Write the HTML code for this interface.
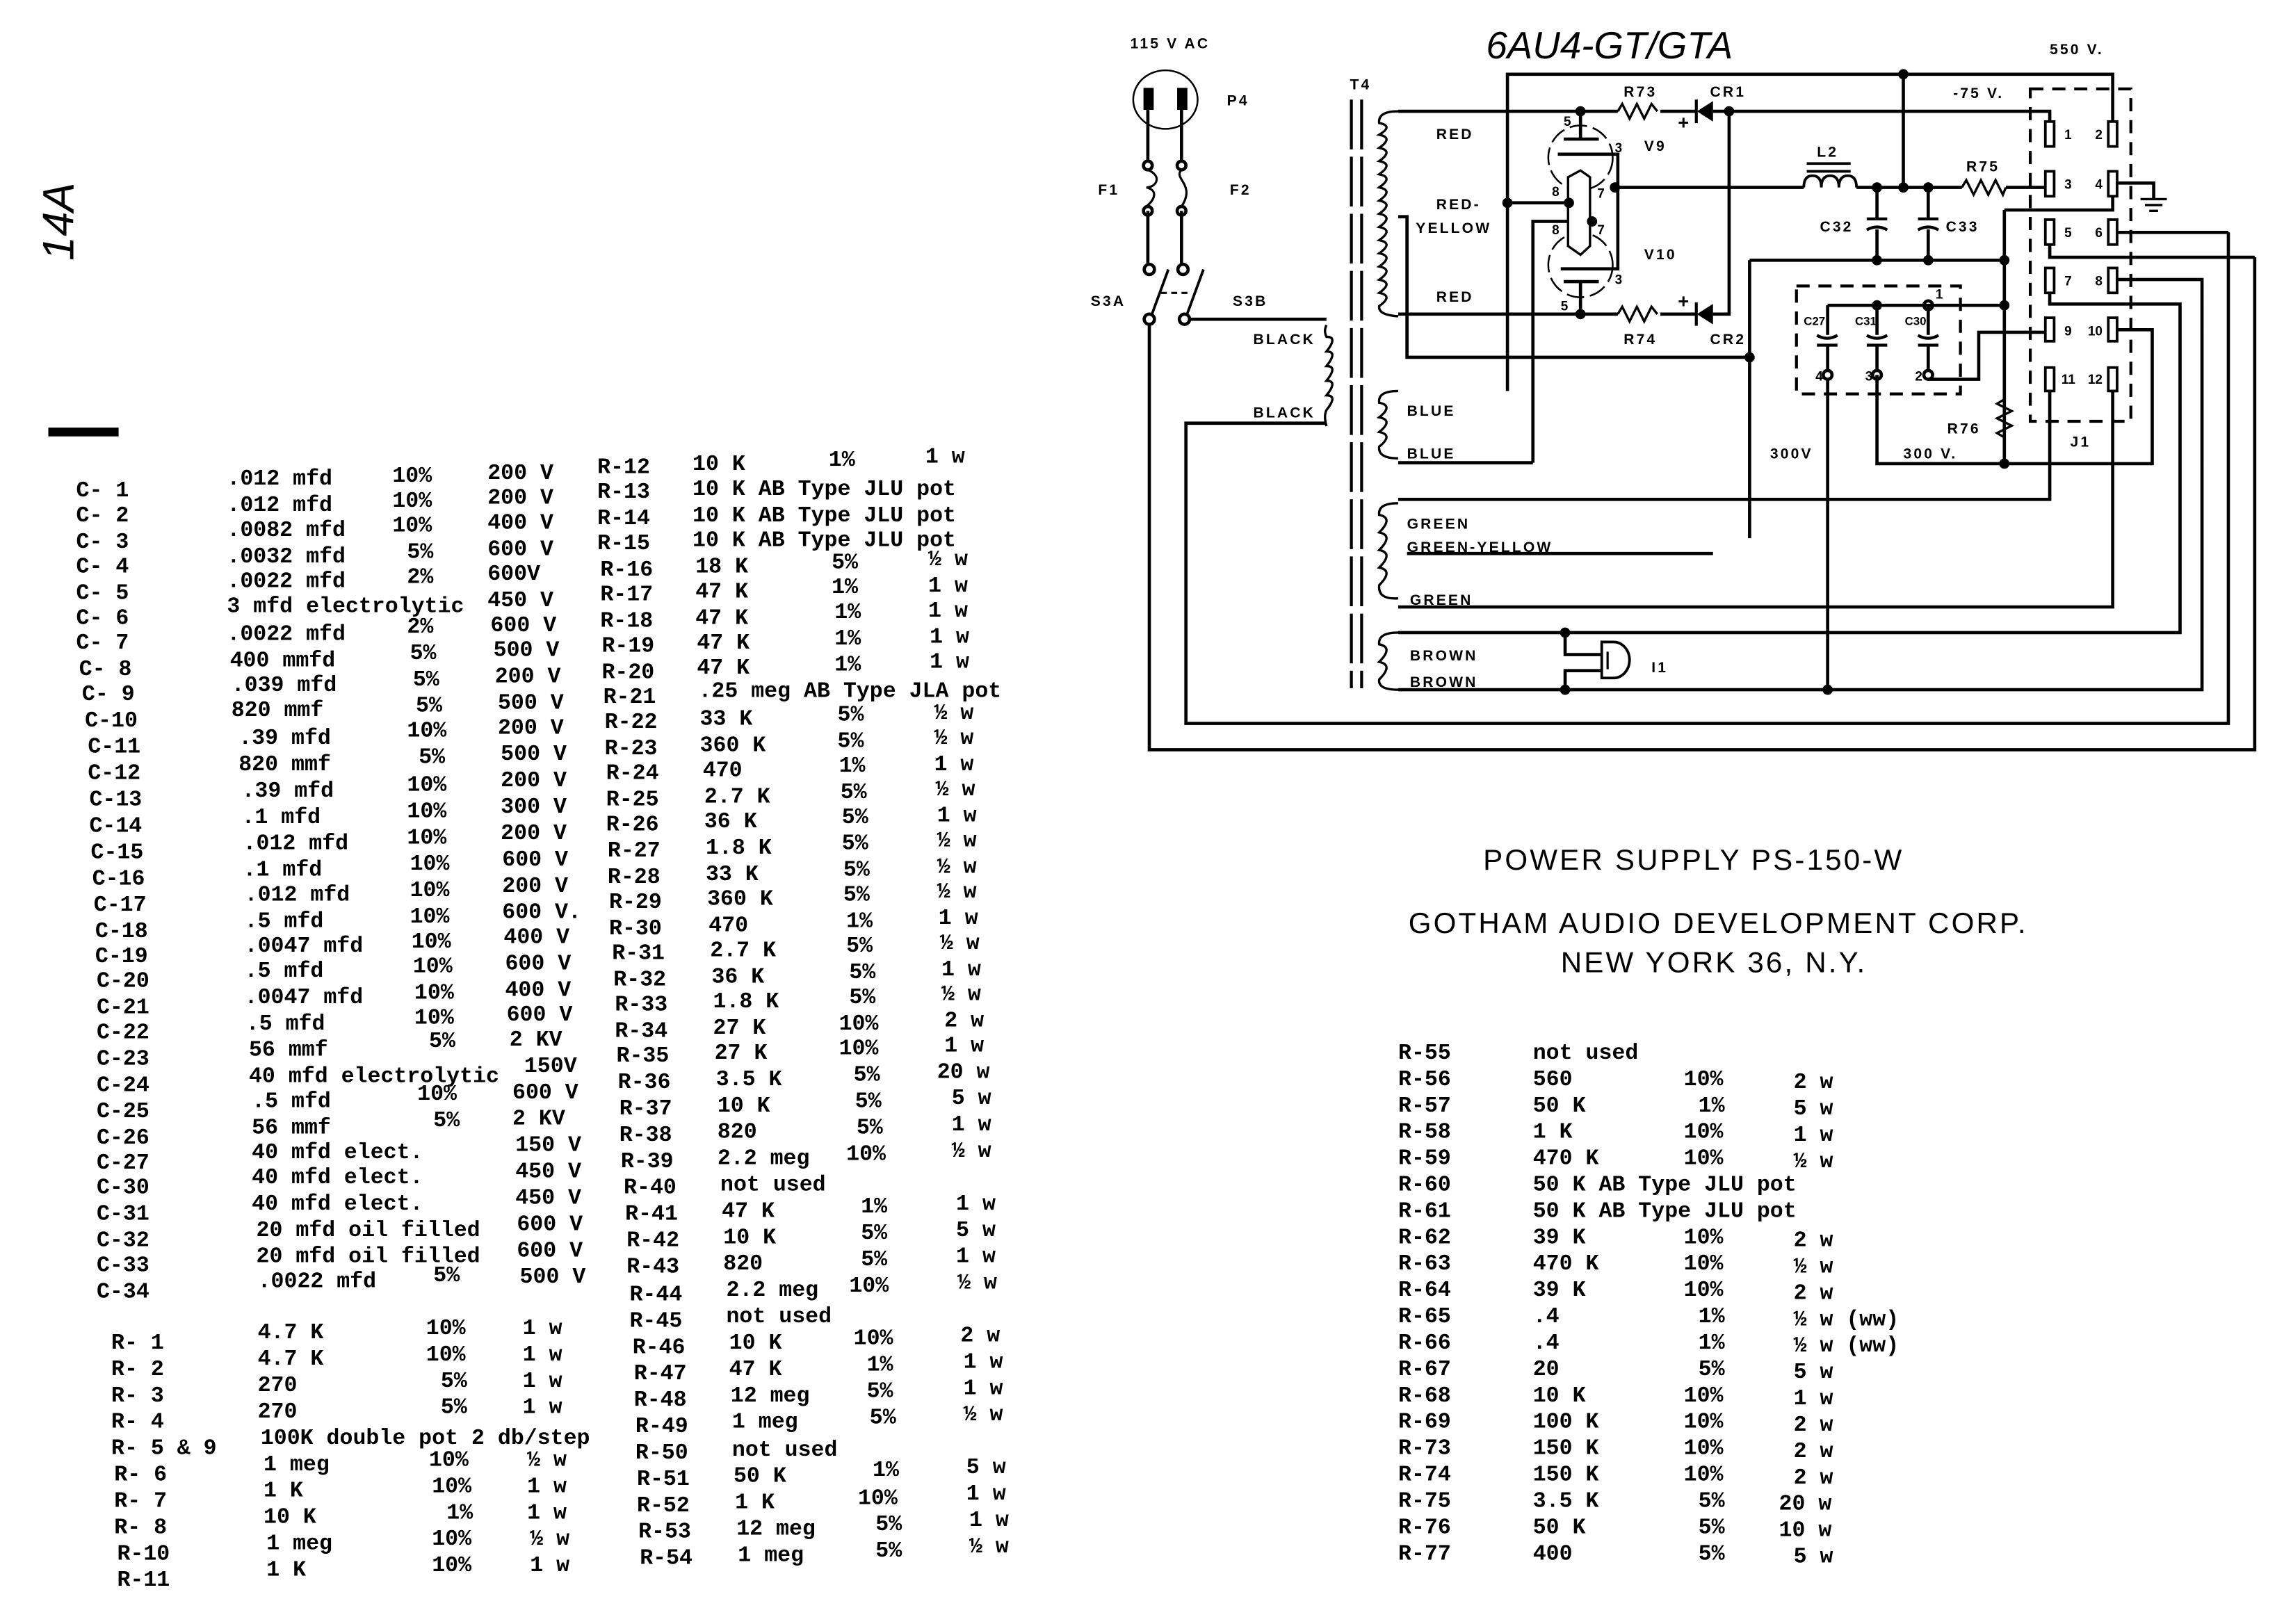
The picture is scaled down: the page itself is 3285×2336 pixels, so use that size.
<!DOCTYPE html>
<html><head><meta charset="utf-8"><style>
html,body{margin:0;padding:0;background:#fff}
svg{display:block}
.t{font-family:"Liberation Mono",monospace;font-weight:bold;font-size:15px;fill:#000}
.s{font-family:"Liberation Sans",sans-serif;font-weight:bold;font-size:10px;fill:#000;letter-spacing:1.5px}
.w{stroke:#000;stroke-width:2.2;fill:none}
.d{stroke:#000;stroke-width:2;fill:none;stroke-dasharray:9 6}
</style></head><body>
<svg width="3285" height="2336" viewBox="0 0 1560 1109" preserveAspectRatio="none" xmlns="http://www.w3.org/2000/svg">
<rect width="1560" height="1109" fill="#fff"/>
<text x="0" y="0" transform="translate(50,178) rotate(-90)" style="font-family:'Liberation Sans',sans-serif;font-style:italic;font-size:30px">14A</text>
<rect x="33" y="292" width="48" height="6" fill="#000"/>

<g class="t">
<text x="52" y="339">C- 1</text><text x="155" y="331">.012 mfd</text><text x="268" y="329">10%</text><text x="333" y="327">200 V</text>
<text x="52" y="356">C- 2</text><text x="155" y="349">.012 mfd</text><text x="268" y="346">10%</text><text x="333" y="344">200 V</text>
<text x="52" y="374">C- 3</text><text x="155" y="366">.0082 mfd</text><text x="268" y="363">10%</text><text x="333" y="361">400 V</text>
<text x="52" y="391">C- 4</text><text x="155" y="384">.0032 mfd</text><text x="278" y="381">5%</text><text x="333" y="379">600 V</text>
<text x="52" y="409">C- 5</text><text x="155" y="401">.0022 mfd</text><text x="278" y="398">2%</text><text x="333" y="396">600V</text>
<text x="52" y="426">C- 6</text><text x="155" y="418">3 mfd electrolytic</text><text x="333" y="414">450 V</text>
<text x="52" y="443">C- 7</text><text x="155" y="437">.0022 mfd</text><text x="278" y="432">2%</text><text x="335" y="431">600 V</text>
<text x="54" y="461">C- 8</text><text x="157" y="455">400 mmfd</text><text x="280" y="450">5%</text><text x="337" y="448">500 V</text>
<text x="56" y="478">C- 9</text><text x="158" y="472">.039 mfd</text><text x="282" y="468">5%</text><text x="338" y="466">200 V</text>
<text x="58" y="496">C-10</text><text x="158" y="489">820 mmf</text><text x="284" y="486">5%</text><text x="340" y="484">500 V</text>
<text x="60" y="514">C-11</text><text x="163" y="508">.39 mfd</text><text x="278" y="503">10%</text><text x="340" y="501">200 V</text>
<text x="60" y="532">C-12</text><text x="163" y="526">820 mmf</text><text x="286" y="521">5%</text><text x="342" y="519">500 V</text>
<text x="61" y="550">C-13</text><text x="165" y="544">.39 mfd</text><text x="278" y="540">10%</text><text x="342" y="537">200 V</text>
<text x="61" y="568">C-14</text><text x="165" y="562">.1 mfd</text><text x="278" y="558">10%</text><text x="342" y="555">300 V</text>
<text x="62" y="586">C-15</text><text x="166" y="580">.012 mfd</text><text x="278" y="576">10%</text><text x="342" y="573">200 V</text>
<text x="63" y="604">C-16</text><text x="166" y="598">.1 mfd</text><text x="280" y="594">10%</text><text x="343" y="591">600 V</text>
<text x="64" y="622">C-17</text><text x="167" y="615">.012 mfd</text><text x="280" y="612">10%</text><text x="343" y="609">200 V</text>
<text x="65" y="640">C-18</text><text x="167" y="633">.5 mfd</text><text x="280" y="630">10%</text><text x="343" y="627">600 V.</text>
<text x="65" y="657">C-19</text><text x="167" y="650">.0047 mfd</text><text x="281" y="647">10%</text><text x="344" y="644">400 V</text>
<text x="66" y="674">C-20</text><text x="167" y="667">.5 mfd</text><text x="282" y="664">10%</text><text x="345" y="662">600 V</text>
<text x="66" y="692">C-21</text><text x="167" y="685">.0047 mfd</text><text x="283" y="682">10%</text><text x="345" y="680">400 V</text>
<text x="66" y="709">C-22</text><text x="168" y="703">.5 mfd</text><text x="283" y="699">10%</text><text x="346" y="697">600 V</text>
<text x="66" y="727">C-23</text><text x="170" y="721">56 mmf</text><text x="293" y="715">5%</text><text x="348" y="714">2 KV</text>
<text x="66" y="745">C-24</text><text x="170" y="739">40 mfd electrolytic</text><text x="358" y="732">150V</text>
<text x="66" y="763">C-25</text><text x="172" y="756">.5 mfd</text><text x="285" y="751">10%</text><text x="350" y="750">600 V</text>
<text x="66" y="781">C-26</text><text x="172" y="774">56 mmf</text><text x="296" y="769">5%</text><text x="350" y="768">2 KV</text>
<text x="66" y="798">C-27</text><text x="172" y="791">40 mfd elect.</text><text x="352" y="786">150 V</text>
<text x="66" y="815">C-30</text><text x="172" y="808">40 mfd elect.</text><text x="352" y="804">450 V</text>
<text x="66" y="833">C-31</text><text x="172" y="826">40 mfd elect.</text><text x="352" y="822">450 V</text>
<text x="66" y="851">C-32</text><text x="175" y="844">20 mfd oil filled</text><text x="353" y="840">600 V</text>
<text x="66" y="868">C-33</text><text x="175" y="862">20 mfd oil filled</text><text x="353" y="858">600 V</text>
<text x="66" y="886">C-34</text><text x="176" y="879">.0022 mfd</text><text x="296" y="875">5%</text><text x="355" y="876">500 V</text>
<text x="76" y="921">R- 1</text><text x="176" y="914">4.7 K</text><text x="291" y="911">10%</text><text x="357" y="911">1 w</text>
<text x="76" y="939">R- 2</text><text x="176" y="932">4.7 K</text><text x="291" y="929">10%</text><text x="357" y="929">1 w</text>
<text x="76" y="957">R- 3</text><text x="176" y="950">270</text><text x="301" y="947">5%</text><text x="357" y="947">1 w</text>
<text x="76" y="975">R- 4</text><text x="176" y="968">270</text><text x="301" y="965">5%</text><text x="357" y="965">1 w</text>
<text x="76" y="993">R- 5 &amp; 9</text><text x="178" y="986">100K double pot 2 db/step</text>
<text x="78" y="1011">R- 6</text><text x="180" y="1004">1 meg</text><text x="293" y="1001">10%</text><text x="360" y="1001">½ w</text>
<text x="78" y="1029">R- 7</text><text x="180" y="1022">1 K</text><text x="295" y="1019">10%</text><text x="360" y="1019">1 w</text>
<text x="78" y="1047">R- 8</text><text x="180" y="1040">10 K</text><text x="305" y="1037">1%</text><text x="360" y="1037">1 w</text>
<text x="80" y="1065">R-10</text><text x="182" y="1058">1 meg</text><text x="295" y="1055">10%</text><text x="362" y="1055">½ w</text>
<text x="80" y="1083">R-11</text><text x="182" y="1076">1 K</text><text x="295" y="1073">10%</text><text x="362" y="1073">1 w</text>
</g>
<g class="t">
<text x="408" y="323">R-12</text><text x="473" y="321">10 K</text><text x="566" y="318">1%</text><text x="632" y="316">1 w</text>
<text x="408" y="340">R-13</text><text x="473" y="338">10 K AB Type JLU pot</text>
<text x="408" y="358">R-14</text><text x="473" y="356">10 K AB Type JLU pot</text>
<text x="408" y="375">R-15</text><text x="473" y="373">10 K AB Type JLU pot</text>
<text x="410" y="393">R-16</text><text x="475" y="391">18 K</text><text x="568" y="388">5%</text><text x="634" y="386">½ w</text>
<text x="410" y="410">R-17</text><text x="475" y="408">47 K</text><text x="568" y="405">1%</text><text x="634" y="404">1 w</text>
<text x="410" y="428">R-18</text><text x="475" y="426">47 K</text><text x="570" y="422">1%</text><text x="634" y="421">1 w</text>
<text x="411" y="445">R-19</text><text x="476" y="443">47 K</text><text x="570" y="440">1%</text><text x="635" y="439">1 w</text>
<text x="411" y="463">R-20</text><text x="476" y="460">47 K</text><text x="570" y="458">1%</text><text x="635" y="456">1 w</text>
<text x="412" y="480">R-21</text><text x="477" y="476">.25 meg AB Type JLA pot</text>
<text x="413" y="497">R-22</text><text x="478" y="495">33 K</text><text x="572" y="492">5%</text><text x="638" y="491">½ w</text>
<text x="413" y="515">R-23</text><text x="478" y="513">360 K</text><text x="572" y="510">5%</text><text x="638" y="508">½ w</text>
<text x="414" y="532">R-24</text><text x="480" y="530">470</text><text x="573" y="527">1%</text><text x="638" y="526">1 w</text>
<text x="414" y="550">R-25</text><text x="481" y="548">2.7 K</text><text x="574" y="545">5%</text><text x="639" y="543">½ w</text>
<text x="414" y="567">R-26</text><text x="481" y="565">36 K</text><text x="575" y="562">5%</text><text x="640" y="561">1 w</text>
<text x="415" y="585">R-27</text><text x="482" y="583">1.8 K</text><text x="575" y="580">5%</text><text x="640" y="578">½ w</text>
<text x="415" y="603">R-28</text><text x="482" y="601">33 K</text><text x="576" y="598">5%</text><text x="640" y="596">½ w</text>
<text x="416" y="620">R-29</text><text x="483" y="618">360 K</text><text x="576" y="615">5%</text><text x="640" y="613">½ w</text>
<text x="416" y="638">R-30</text><text x="484" y="636">470</text><text x="578" y="633">1%</text><text x="641" y="631">1 w</text>
<text x="418" y="655">R-31</text><text x="485" y="653">2.7 K</text><text x="578" y="650">5%</text><text x="642" y="648">½ w</text>
<text x="419" y="673">R-32</text><text x="486" y="671">36 K</text><text x="580" y="668">5%</text><text x="643" y="666">1 w</text>
<text x="420" y="690">R-33</text><text x="487" y="688">1.8 K</text><text x="580" y="685">5%</text><text x="643" y="683">½ w</text>
<text x="420" y="708">R-34</text><text x="487" y="706">27 K</text><text x="573" y="703">10%</text><text x="645" y="701">2 w</text>
<text x="421" y="725">R-35</text><text x="488" y="723">27 K</text><text x="573" y="720">10%</text><text x="645" y="718">1 w</text>
<text x="422" y="743">R-36</text><text x="489" y="741">3.5 K</text><text x="583" y="738">5%</text><text x="640" y="736">20 w</text>
<text x="423" y="761">R-37</text><text x="490" y="759">10 K</text><text x="584" y="756">5%</text><text x="650" y="754">5 w</text>
<text x="423" y="779">R-38</text><text x="490" y="777">820</text><text x="585" y="774">5%</text><text x="650" y="772">1 w</text>
<text x="424" y="797">R-39</text><text x="490" y="795">2.2 meg</text><text x="578" y="792">10%</text><text x="650" y="790">½ w</text>
<text x="426" y="815">R-40</text><text x="492" y="813">not used</text>
<text x="427" y="833">R-41</text><text x="493" y="831">47 K</text><text x="588" y="828">1%</text><text x="653" y="826">1 w</text>
<text x="428" y="851">R-42</text><text x="494" y="849">10 K</text><text x="588" y="846">5%</text><text x="653" y="844">5 w</text>
<text x="428" y="869">R-43</text><text x="494" y="867">820</text><text x="588" y="864">5%</text><text x="653" y="862">1 w</text>
<text x="430" y="888">R-44</text><text x="496" y="885">2.2 meg</text><text x="580" y="882">10%</text><text x="654" y="880">½ w</text>
<text x="430" y="906">R-45</text><text x="496" y="903">not used</text>
<text x="432" y="924">R-46</text><text x="498" y="921">10 K</text><text x="583" y="918">10%</text><text x="656" y="916">2 w</text>
<text x="433" y="942">R-47</text><text x="498" y="939">47 K</text><text x="592" y="936">1%</text><text x="658" y="934">1 w</text>
<text x="433" y="960">R-48</text><text x="499" y="957">12 meg</text><text x="592" y="954">5%</text><text x="658" y="952">1 w</text>
<text x="434" y="978">R-49</text><text x="500" y="975">1 meg</text><text x="594" y="972">5%</text><text x="658" y="970">½ w</text>
<text x="434" y="996">R-50</text><text x="500" y="994">not used</text>
<text x="435" y="1014">R-51</text><text x="501" y="1012">50 K</text><text x="596" y="1008">1%</text><text x="660" y="1006">5 w</text>
<text x="435" y="1032">R-52</text><text x="502" y="1030">1 K</text><text x="586" y="1027">10%</text><text x="660" y="1024">1 w</text>
<text x="436" y="1050">R-53</text><text x="503" y="1048">12 meg</text><text x="598" y="1045">5%</text><text x="662" y="1042">1 w</text>
<text x="437" y="1068">R-54</text><text x="504" y="1066">1 meg</text><text x="598" y="1063">5%</text><text x="662" y="1060">½ w</text>
</g>
<g class="t">
<text x="955" y="723">R-55</text><text x="1047" y="723">not used</text>
<text x="955" y="741">R-56</text><text x="1047" y="741">560</text><text x="1150" y="741">10%</text><text x="1225" y="743">2 w</text>
<text x="955" y="759">R-57</text><text x="1047" y="759">50 K</text><text x="1160" y="759">1%</text><text x="1225" y="761">5 w</text>
<text x="955" y="777">R-58</text><text x="1047" y="777">1 K</text><text x="1150" y="777">10%</text><text x="1225" y="779">1 w</text>
<text x="955" y="795">R-59</text><text x="1047" y="795">470 K</text><text x="1150" y="795">10%</text><text x="1225" y="797">½ w</text>
<text x="955" y="813">R-60</text><text x="1047" y="813">50 K AB Type JLU pot</text>
<text x="955" y="831">R-61</text><text x="1047" y="831">50 K AB Type JLU pot</text>
<text x="955" y="849">R-62</text><text x="1047" y="849">39 K</text><text x="1150" y="849">10%</text><text x="1225" y="851">2 w</text>
<text x="955" y="867">R-63</text><text x="1047" y="867">470 K</text><text x="1150" y="867">10%</text><text x="1225" y="869">½ w</text>
<text x="955" y="885">R-64</text><text x="1047" y="885">39 K</text><text x="1150" y="885">10%</text><text x="1225" y="887">2 w</text>
<text x="955" y="903">R-65</text><text x="1047" y="903">.4</text><text x="1160" y="903">1%</text><text x="1225" y="905">½ w (ww)</text>
<text x="955" y="921">R-66</text><text x="1047" y="921">.4</text><text x="1160" y="921">1%</text><text x="1225" y="923">½ w (ww)</text>
<text x="955" y="939">R-67</text><text x="1047" y="939">20</text><text x="1160" y="939">5%</text><text x="1225" y="941">5 w</text>
<text x="955" y="957">R-68</text><text x="1047" y="957">10 K</text><text x="1150" y="957">10%</text><text x="1225" y="959">1 w</text>
<text x="955" y="975">R-69</text><text x="1047" y="975">100 K</text><text x="1150" y="975">10%</text><text x="1225" y="977">2 w</text>
<text x="955" y="993">R-73</text><text x="1047" y="993">150 K</text><text x="1150" y="993">10%</text><text x="1225" y="995">2 w</text>
<text x="955" y="1011">R-74</text><text x="1047" y="1011">150 K</text><text x="1150" y="1011">10%</text><text x="1225" y="1013">2 w</text>
<text x="955" y="1029">R-75</text><text x="1047" y="1029">3.5 K</text><text x="1160" y="1029">5%</text><text x="1215" y="1031">20 w</text>
<text x="955" y="1047">R-76</text><text x="1047" y="1047">50 K</text><text x="1160" y="1047">5%</text><text x="1215" y="1049">10 w</text>
<text x="955" y="1065">R-77</text><text x="1047" y="1065">400</text><text x="1160" y="1065">5%</text><text x="1225" y="1067">5 w</text>
</g>

<g style="font-family:'Liberation Sans',sans-serif;font-size:20px;letter-spacing:1.5px" fill="#000">
<text x="1013" y="594">POWER SUPPLY PS-150-W</text>
<text x="962" y="637">GOTHAM AUDIO DEVELOPMENT CORP.</text>
<text x="1066" y="664">NEW YORK 36, N.Y.</text>
</g>
<text x="1015" y="40" style="font-family:'Liberation Sans',sans-serif;font-style:italic;font-size:26px">6AU4-GT/GTA</text>

<!-- SCHEMATIC LABELS -->
<g class="s">
<text x="772" y="33">115 V AC</text><text x="1400" y="37">550 V.</text>
<text x="838" y="72">P4</text><text x="922" y="61">T4</text>
<text x="750" y="133">F1</text><text x="840" y="133">F2</text>
<text x="745" y="209">S3A</text><text x="842" y="209">S3B</text>
<text x="856" y="235">BLACK</text><text x="856" y="285">BLACK</text>
<text x="981" y="95">RED</text><text x="981" y="143">RED-</text><text x="967" y="159">YELLOW</text><text x="981" y="206">RED</text>
<text x="961" y="284">BLUE</text><text x="961" y="313">BLUE</text>
<text x="961" y="361">GREEN</text><text x="961" y="377">GREEN-YELLOW</text><text x="963" y="413">GREEN</text>
<text x="963" y="451">BROWN</text><text x="963" y="469">BROWN</text>
<text x="1109" y="66">R73</text><text x="1168" y="66">CR1</text><text x="1123" y="103">V9</text><text x="1123" y="177">V10</text>
<text x="1109" y="235">R74</text><text x="1168" y="235">CR2</text>
<text x="1241" y="107">L2</text><text x="1343" y="117">R75</text><text x="1334" y="67">-75 V.</text>
<text x="1243" y="158">C32</text><text x="1329" y="158">C33</text>
<text x="1330" y="296">R76</text><text x="1209" y="313">300V</text><text x="1300" y="313">300 V.</text><text x="1414" y="305">J1</text>
<text x="1128" y="459">I1</text>
<g style="font-size:9px;letter-spacing:0">
<text x="1068" y="86">5</text><text x="1103" y="104">3</text>
<text x="1060" y="134">8</text><text x="1091" y="135">7</text>
<text x="1060" y="160">8</text><text x="1091" y="160">7</text>
<text x="1103" y="194">3</text><text x="1066" y="212">5</text>
<text x="1232" y="222" style="font-size:8px">C27</text><text x="1267" y="222" style="font-size:8px">C31</text><text x="1301" y="222" style="font-size:8px">C30</text>
<text x="1240" y="260">4</text><text x="1274" y="260">3</text><text x="1308" y="260">2</text><text x="1322" y="204">1</text>
<text x="1410" y="95">1</text><text x="1431" y="95">2</text>
<text x="1410" y="129">3</text><text x="1431" y="129">4</text>
<text x="1410" y="162">5</text><text x="1431" y="162">6</text>
<text x="1410" y="195">7</text><text x="1431" y="195">8</text>
<text x="1410" y="229">9</text><text x="1426" y="229">10</text>
<text x="1408" y="262">11</text><text x="1426" y="262">12</text>
</g>
</g>

<!-- Plug, fuses, switch -->
<ellipse cx="796" cy="68" rx="22" ry="20" stroke="#000" stroke-width="1.2" fill="none"/>
<rect x="781" y="60" width="7" height="15" fill="#000"/><rect x="804" y="60" width="7" height="15" fill="#000"/>
<path class="w" d="M784 75V110 M807 75V110 M784 144V180 M807 144V180"/>
<circle cx="784" cy="113" r="3" class="w"/><circle cx="807" cy="113" r="3" class="w"/>
<circle cx="784" cy="144" r="3" class="w"/><circle cx="807" cy="144" r="3" class="w"/>
<path d="M784 116c10 4 6 12 -1 12c8 2 6 8 0 13 M807 116c-6 6 10 10 0 25" stroke="#000" stroke-width="1.5" fill="none"/>
<circle cx="785" cy="184" r="3.5" class="w"/><circle cx="808" cy="184" r="3.5" class="w"/>
<circle cx="785" cy="218" r="3.5" class="w"/><circle cx="809" cy="218" r="3.5" class="w"/>
<path d="M787 214L798 184 M811 214L822 184" stroke="#000" stroke-width="1.8"/>
<path d="M793 200h18" stroke="#000" stroke-width="1.5" stroke-dasharray="4 3"/>
<path class="w" d="M785 222V512H1540V175.7 M812 218H906 M906 289H810V494H1522V158.7"/>
<!-- primary coil -->
<path d="M906 222 q-2 4 0 8 q8 0 0 10 q8 0 0 10 q8 0 0 10 q8 0 0 10 q8 0 0 10 q-2 4 0 11" stroke="#000" stroke-width="1.6" fill="none"/>
<!-- core -->
<path d="M923 68V470 M930 68V470" stroke="#000" stroke-width="2" stroke-dasharray="34 5"/>
<!-- secondary coils -->
<path d="M955 76 q-14 0 -13 8 q10 2 0 8 q10 2 0 9 q10 2 0 9 q10 2 0 9 q10 2 0 9 q10 2 0 9 q10 2 0 9 q10 2 0 9 q10 2 0 9 q10 2 0 9 q10 2 0 9 q10 2 0 9 q10 2 0 9 q10 2 0 9 q-1 6 13 7" stroke="#000" stroke-width="1.6" fill="none"/>
<path d="M955 267 q-14 0 -13 8 q10 2 0 10 q10 2 0 10 q10 2 0 10 q-1 8 13 8" stroke="#000" stroke-width="1.6" fill="none"/>
<path d="M955 343.6 q-14 0 -13 8 q10 2 0 12 q10 2 0 12 q10 2 0 12 q10 2 0 12 q-1 10 13 9" stroke="#000" stroke-width="1.6" fill="none"/>
<path d="M955 432 q-14 0 -13 8 q10 2 0 12 q10 2 0 12 q-1 7 13 7" stroke="#000" stroke-width="1.6" fill="none"/>

<!-- wiring -->
<path class="w" d="
M955 76H1105 M1134 76H1158 M1170 76H1400V83
M955 214.5H1105 M1134 214.5H1158 M1170 214.5H1181V76
M1079.5 76V95 M1068 95H1092 M1079.5 192.3V214.5 M1068 192.3H1092
M1064 105.3H1105V183.6H1066
M1103 128H1232 M1268 128H1340 M1370 128H1400
M1029.6 267V50.7H1443V83
M1300 50.7V128
M1029.6 138.5H1071.6
M955 148H961V244H1195
M1195 177.7H1369 M1195 177.7V367.5
M1047 316H955 M1047 316V151.2H1087.4
M1282 128V149.5 M1282 156.6V177.7 M1317 128V149.5 M1317 156.6V177.7
M1369 143.4V316.6 M1369 143.4H1443V133.7
M1443 125H1471V136
M1400 167V175.7H1540
M1443 158.7H1522
M1400 199.7V207.6H1489V432H955
M1443 190.9H1504V471H955
M1443 225.2H1470V316.6H1282V256
M1248.3 208.5H1369 M1248.3 208.5V228.7 M1282 208.5V228.7 M1317 208.5V228.7
M1248.3 235.7V253 M1282 235.7V253 M1317 235.7V253
M1317 259H1351.5V226.9H1400
M1248.3 259V471
M1400 266.5V341H955
M1443 266.5V414.5H955
M961 378H1170
M1069 432V447H1094 M1069 471V458H1094
"/>
<path d="M1462 136h18 M1465 140h12 M1468 144h6" stroke="#000" stroke-width="1.6"/>
<!-- tubes -->
<circle cx="1079.5" cy="107.7" r="22" stroke="#000" stroke-width="1.2" fill="none" stroke-dasharray="12 4"/>
<circle cx="1079.5" cy="181" r="22" stroke="#000" stroke-width="1.2" fill="none" stroke-dasharray="12 4"/>
<path d="M1071 121L1079.5 116.4L1086 121V168L1079.5 174L1071 168Z" stroke="#000" stroke-width="1.6" fill="#fff"/>
<!-- resistors -->
<path d="M1105 76l3-5 5 10 5-10 5 10 5-10 4 5 M1105 214.5l3-5 5 10 5-10 5 10 5-10 4 5 M1340 128l3-5 5 10 5-10 5 10 5-10 5 10 2-5 M1369 272.7l-5 3 10 5-10 5 10 5-10 5 5 3" stroke="#000" stroke-width="1.6" fill="none"/>
<!-- diodes (pointing left) -->
<path d="M1170 69L1170 83L1159 76Z M1170 207.5L1170 221.5L1159 214.5Z" fill="#000"/>
<path d="M1158.6 68V84 M1158.6 206.5V222.5" stroke="#000" stroke-width="2"/>
<text x="1146" y="88" style="font-size:13px;font-weight:bold;font-family:'Liberation Sans'">+</text>
<text x="1146" y="210" style="font-size:13px;font-weight:bold;font-family:'Liberation Sans'">+</text>
<!-- L2 -->
<path d="M1232 128q0-8 6-8q6 0 6 8q0-8 6-8q6 0 6 8q0-8 6-8q6 0 6 8" stroke="#000" stroke-width="1.8" fill="none"/>
<path d="M1234 111.7H1264 M1234 117H1264" stroke="#000" stroke-width="1.8"/>
<!-- caps -->
<path d="M1275 149.5h14 M1275 157q7-4 14 0 M1310 149.5h14 M1310 157q7-4 14 0 M1241 229q7 4 14 0 M1241 235.7h14 M1275 229q7 4 14 0 M1275 235.7h14 M1310 229q7 4 14 0 M1310 235.7h14" stroke="#000" stroke-width="2" fill="none"/>
<circle cx="1248.3" cy="256" r="3" class="w" fill="#fff"/><circle cx="1282" cy="256" r="3" class="w"/><circle cx="1317" cy="256" r="3" class="w"/><circle cx="1317" cy="208.5" r="3" class="w" fill="#fff"/>
<rect x="1227" y="195.3" width="112" height="73.7" class="d"/>
<rect x="1386.7" y="60.7" width="68.7" height="227" class="d"/>
<g stroke="#000" stroke-width="1.8" fill="#fff">
<rect x="1397" y="83" width="6" height="17"/><rect x="1440" y="83" width="6" height="17"/>
<rect x="1397" y="117" width="6" height="17"/><rect x="1440" y="117" width="6" height="17"/>
<rect x="1397" y="150" width="6" height="17"/><rect x="1440" y="150" width="6" height="17"/>
<rect x="1397" y="183" width="6" height="17"/><rect x="1440" y="183" width="6" height="17"/>
<rect x="1397" y="217" width="6" height="16"/><rect x="1440" y="217" width="6" height="16"/>
<rect x="1397" y="251" width="6" height="16"/><rect x="1440" y="251" width="6" height="16"/>
</g>
<!-- lamp -->
<path d="M1094 438.4H1102a11 12.3 0 0 1 0 24.6H1094Z" stroke="#000" stroke-width="1.8" fill="#fff"/>
<path d="M1098 445v12" stroke="#000" stroke-width="1.5"/>
<g fill="#000">
<circle cx="1079.5" cy="76" r="3.5"/><circle cx="1079.5" cy="214.5" r="3.5"/><circle cx="1181" cy="76" r="3.5"/>
<circle cx="1103" cy="128" r="3.5"/><circle cx="1282" cy="128" r="3.5"/><circle cx="1300" cy="128" r="3.5"/><circle cx="1317" cy="128" r="3.5"/>
<circle cx="1300" cy="50.7" r="3.5"/><circle cx="1029.6" cy="138.5" r="3.5"/><circle cx="1071.6" cy="138.5" r="3.5"/><circle cx="1087.4" cy="151.2" r="3.5"/>
<circle cx="1282" cy="177.7" r="3.5"/><circle cx="1317" cy="177.7" r="3.5"/><circle cx="1369" cy="177.7" r="3.5"/><circle cx="1195" cy="244" r="3.5"/>
<circle cx="1369" cy="208.5" r="3.5"/><circle cx="1282" cy="208.5" r="3.5"/><circle cx="1369" cy="316.6" r="3.5"/>
<circle cx="1069" cy="432" r="3.5"/><circle cx="1069" cy="471" r="3.5"/><circle cx="1248.3" cy="471" r="3.5"/>
</g>
</svg>
</body></html>
